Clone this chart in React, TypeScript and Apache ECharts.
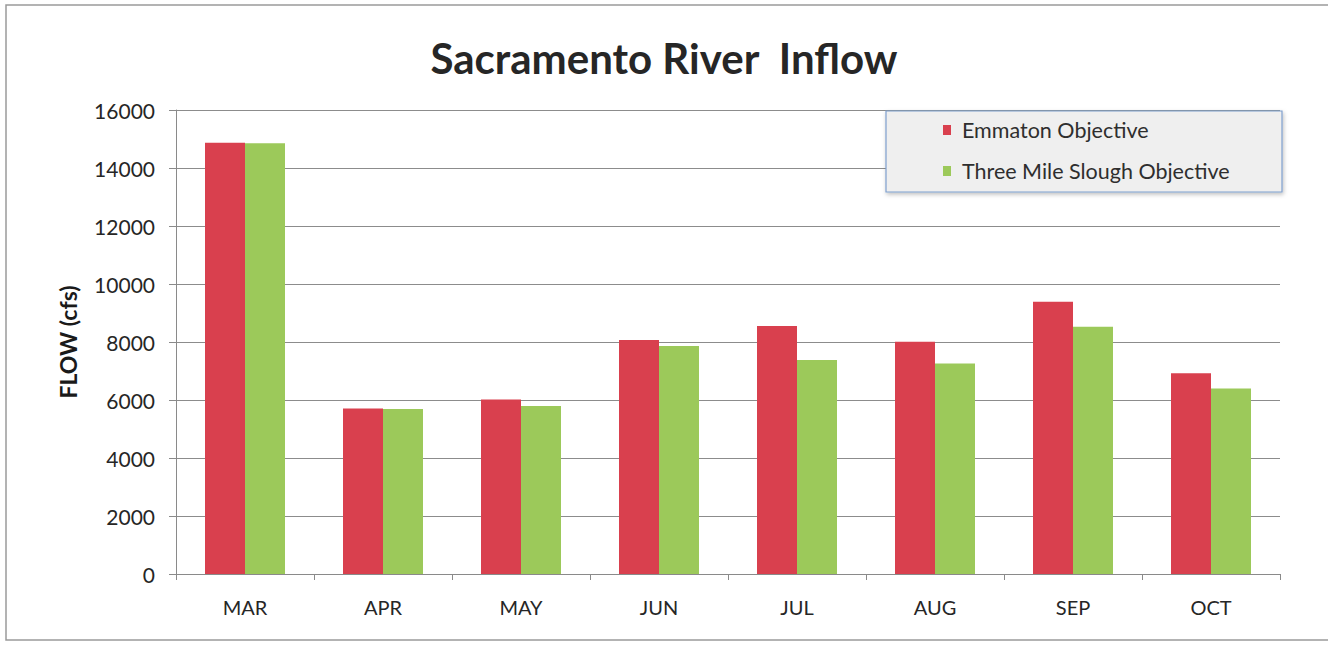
import React, { useEffect, useRef } from "react";
import * as echarts from "echarts";

const months = ["MAR", "APR", "MAY", "JUN", "JUL", "AUG", "SEP", "OCT"];
const emmaton = [14870, 5710, 6020, 8070, 8550, 8010, 9390, 6920];
const threeMile = [14850, 5690, 5790, 7860, 7380, 7260, 8530, 6400];
const yTicks = { min: 0, max: 16000, interval: 2000 };

const FONT = "Lato, 'Open Sans', sans-serif";

export default function App() {
  const ref = useRef<HTMLDivElement>(null);
  useEffect(() => {
    document.body.style.margin = "0";
    const chart = echarts.init(ref.current!, null, { renderer: "svg" });
    chart.setOption({
      animation: false,
      backgroundColor: "#ffffff",
      title: {
        text: "Sacramento River  Inflow",
        left: "center",
        top: 32,
        textStyle: { fontFamily: FONT, fontSize: 42, fontWeight: "bold", color: "#262626" },
      },
      graphic: [
        {
          type: "rect",
          z: 0,
          shape: { x: 6, y: 5, width: 1340, height: 635 },
          style: { fill: "none", stroke: "#9a9a9a", lineWidth: 1.5 },
        },
        {
          type: "rect",
          z: 3,
          shape: { x: 886, y: 111, width: 396, height: 81 },
          style: {
            fill: "#efefef",
            stroke: "#7f9fce",
            lineWidth: 1.2,
            shadowBlur: 4,
            shadowColor: "rgba(0,0,0,0.25)",
            shadowOffsetX: 1,
            shadowOffsetY: 2,
          },
        },
      ],
      legend: {
        orient: "vertical",
        left: 943,
        top: 118,
        z: 5,
        icon: "rect",
        itemWidth: 8,
        itemHeight: 10,
        itemGap: 17,
        padding: 0,
        textStyle: {
          fontFamily: FONT,
          fontSize: 21.5,
          color: "#2e2e2e",
          lineHeight: 24,
          padding: [0, 0, 0, 6],
        },
        data: ["Emmaton Objective", "Three Mile Slough Objective"],
      },
      grid: { left: 176, right: 48, top: 110, bottom: 72 },
      xAxis: {
        type: "category",
        data: months,
        axisLine: { lineStyle: { color: "#8a8a8a", width: 1 } },
        axisTick: { show: true, length: 6, lineStyle: { color: "#8a8a8a" } },
        axisLabel: { fontFamily: FONT, fontSize: 20, color: "#262626", margin: 23 },
      },
      yAxis: {
        type: "value",
        min: yTicks.min,
        max: yTicks.max,
        interval: yTicks.interval,
        name: "FLOW (cfs)",
        nameLocation: "middle",
        nameRotate: 90,
        nameGap: 97,
        nameTextStyle: { fontFamily: FONT, fontSize: 23, fontWeight: "bold", color: "#1a1a1a" },
        axisLine: { show: true, lineStyle: { color: "#8a8a8a", width: 1 } },
        axisTick: { show: true, length: 7, lineStyle: { color: "#8a8a8a" } },
        axisLabel: {
          fontFamily: FONT,
          fontSize: 21,
          color: "#262626",
          margin: 21,
          formatter: (v: number) => String(v),
        },
        splitLine: { lineStyle: { color: "#8c8c8c", width: 1 } },
      },
      series: [
        {
          name: "Emmaton Objective",
          type: "bar",
          data: emmaton,
          barWidth: 40,
          barGap: "0%",
          itemStyle: { color: "#d9404e" },
        },
        {
          name: "Three Mile Slough Objective",
          type: "bar",
          data: threeMile,
          barWidth: 40,
          barGap: "0%",
          itemStyle: { color: "#9cc95a" },
        },
      ],
    });
    return () => chart.dispose();
  }, []);
  return <div ref={ref} style={{ position: "fixed", left: 0, top: 0, width: 1328, height: 646 }} />;
}
